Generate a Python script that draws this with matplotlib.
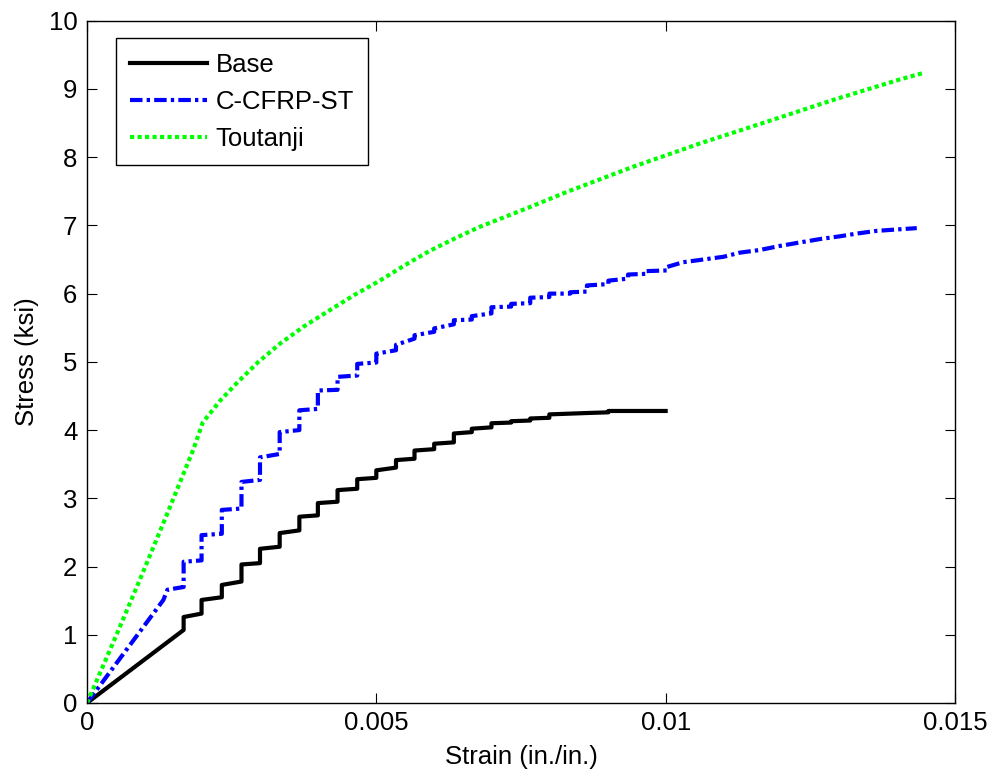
import numpy as np
import matplotlib
matplotlib.use("Agg")
import matplotlib.pyplot as plt
from matplotlib.ticker import FuncFormatter

plt.rcParams['font.family'] = ['Liberation Sans', 'DejaVu Sans']

# strain values are in units of 1e-3 in./in., stress in ksi
base_strain = [0, 1.67, 1.67, 1.98, 1.98, 2.33, 2.33, 2.67, 2.67, 2.99, 2.99,
               3.33, 3.33, 3.67, 3.67, 3.99, 3.99, 4.33, 4.33, 4.67, 4.67,
               5.00, 5.00, 5.34, 5.34, 5.66, 5.66, 6.00, 6.00, 6.34, 6.34,
               6.65, 6.65, 6.99, 6.99, 7.33, 7.33, 7.66, 7.66, 7.99, 7.99,
               8.64, 9.01, 9.01, 10.0]
base_stress = [0, 1.07, 1.26, 1.31, 1.51, 1.55, 1.73, 1.78, 2.03, 2.05, 2.26,
               2.29, 2.49, 2.53, 2.73, 2.75, 2.93, 2.95, 3.12, 3.14, 3.28,
               3.30, 3.41, 3.45, 3.56, 3.58, 3.70, 3.72, 3.80, 3.82, 3.95,
               3.97, 4.02, 4.04, 4.10, 4.11, 4.13, 4.14, 4.17, 4.18, 4.23,
               4.25, 4.26, 4.28, 4.28]

cfrp_strain = [0, 1.32, 1.39, 1.67, 1.67, 1.98, 1.98, 2.33, 2.33, 2.67, 2.67,
               2.99, 2.99, 3.33, 3.33, 3.67, 3.67, 3.99, 3.99, 4.33, 4.33,
               4.67, 4.67, 5.00, 5.00, 5.34, 5.34, 5.66, 5.66, 6.00, 6.00,
               6.34, 6.34, 6.65, 6.65, 6.99, 6.99, 7.33, 7.33, 7.66, 7.66,
               7.99, 7.99, 8.35, 8.35, 8.64, 8.64, 9.01, 9.01, 9.35, 9.35,
               9.67, 9.67, 10.02, 10.02, 10.30, 10.65, 11.00, 11.28, 11.63,
               11.98, 12.32, 12.67, 13.01, 13.30, 13.65, 13.99, 14.34]
cfrp_stress = [0, 1.51, 1.66, 1.70, 2.07, 2.09, 2.46, 2.48, 2.83, 2.85, 3.24,
               3.27, 3.60, 3.65, 3.97, 4.00, 4.29, 4.31, 4.58, 4.59, 4.78,
               4.80, 4.97, 4.99, 5.12, 5.17, 5.25, 5.34, 5.39, 5.44, 5.49,
               5.55, 5.61, 5.62, 5.67, 5.71, 5.80, 5.81, 5.85, 5.86, 5.94,
               5.95, 6.00, 6.00, 6.02, 6.03, 6.12, 6.14, 6.19, 6.22, 6.28,
               6.29, 6.33, 6.34, 6.39, 6.46, 6.50, 6.54, 6.60, 6.64,
               6.70, 6.75, 6.80, 6.84, 6.88, 6.92, 6.94, 6.96]

toutanji_strain = [0, 0.46, 0.92, 1.38, 1.84, 2.00, 2.30, 2.59, 2.95, 3.34,
                   3.75, 4.20, 4.62, 5.06, 5.50, 5.93, 6.36, 6.79, 7.60, 8.29,
                   9.44, 10.59, 11.75, 12.90, 14.05, 14.48]
toutanji_stress = [0, 0.90, 1.82, 2.76, 3.72, 4.11, 4.43, 4.69, 4.99, 5.27,
                   5.52, 5.76, 5.98, 6.19, 6.42, 6.63, 6.81, 6.98, 7.25, 7.49,
                   7.86, 8.20, 8.52, 8.84, 9.14, 9.24]

fig = plt.figure(figsize=(9.93, 7.76), dpi=100)
ax = fig.add_axes([0.0876, 0.0941, 0.8741, 0.8792])

ax.plot(np.array(base_strain) * 1e-3, base_stress, color='black', lw=3,
        label='Base')
ax.plot(np.array(cfrp_strain) * 1e-3, cfrp_stress, color='blue', lw=3,
        dashes=(3, 1, 0.8, 1), dash_capstyle='butt', label='C-CFRP-ST')
ax.plot(np.array(toutanji_strain) * 1e-3, toutanji_stress, color=(0, 1, 0),
        lw=3, dashes=(1, 0.8), dash_capstyle='butt', label='Toutanji')

ax.set_xlim(0, 0.015)
ax.set_ylim(0, 10)
ax.set_xticks([0, 0.005, 0.01, 0.015])
ax.set_yticks(range(0, 11))
ax.xaxis.set_major_formatter(FuncFormatter(lambda v, p: '%g' % v))
ax.tick_params(direction='in', length=7, width=0.8, labelsize=18.5,
               top=True, right=True)
ax.tick_params(axis='x', pad=6)
ax.tick_params(axis='y', pad=7)
for s in ax.spines.values():
    s.set_linewidth(1.0)

ax.set_xlabel('Strain (in./in.)', fontsize=18.5, labelpad=7)
ax.set_ylabel('Stress (ksi)', fontsize=18.5, labelpad=7)

leg = ax.legend(loc='upper left', bbox_to_anchor=(0.033, 0.974),
                borderaxespad=0, fontsize=18.5, handlelength=3.0,
                handletextpad=0.35, labelspacing=0.52, borderpad=0.55,
                fancybox=False, framealpha=1)
leg.get_frame().set_edgecolor('black')
leg.get_frame().set_linewidth(1.0)

fig.savefig('out.png', dpi=100)
